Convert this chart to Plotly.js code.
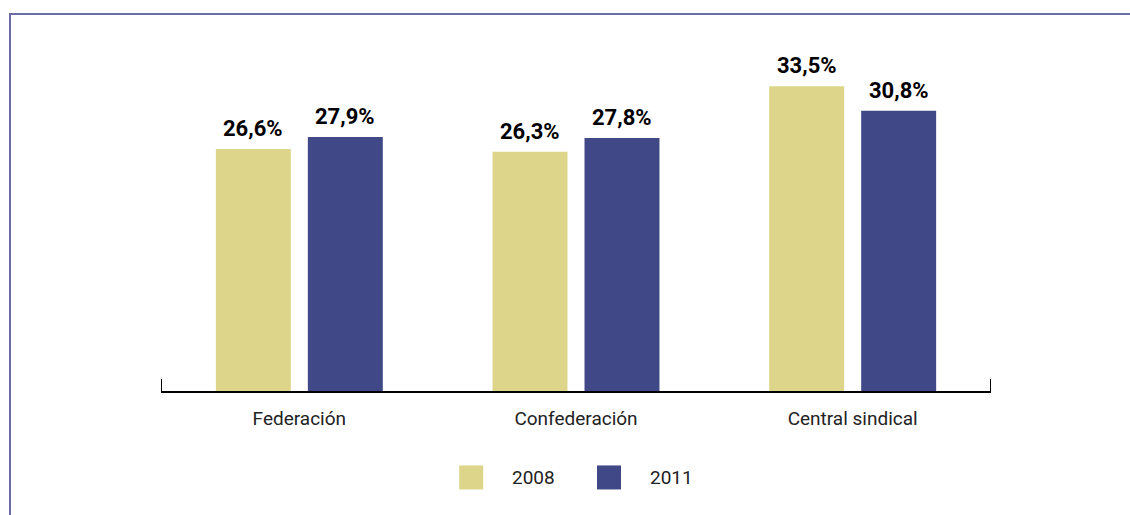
<!DOCTYPE html>
<html>
<head>
<meta charset="utf-8">
<script src="https://cdn.plot.ly/plotly-3.0.1.min.js"></script>
<style>
  html, body { margin: 0; padding: 0; background: #fff; }
  #wrap { position: relative; width: 1130px; height: 515px; overflow: hidden; }
  #chart { position: absolute; left: 0; top: 0; width: 1130px; height: 515px; }
  #frame { position: absolute; left: 9px; top: 13px; width: 1200px; height: 600px;
           border-top: 2px solid #6c6cab; border-left: 2px solid #6c6cab; pointer-events: none; }
</style>
</head>
<body>
<div id="wrap">
  <div id="chart"></div>
  <div id="frame"></div>
</div>
<script>
// ---- data ----
const categories = ["Federación", "Confederación", "Central sindical"];
const seriesNames = ["2008", "2011"];
const values2008 = [26.6, 26.3, 33.5];
const values2011 = [27.9, 27.8, 30.8];
const seriesColors = ["#ddd68a", "#414888"];

const FONT = 'Roboto, "Liberation Sans", sans-serif';

const seriesValues = [values2008, values2011];

const traces = seriesValues.map((vals, i) => ({
  type: "bar",
  name: seriesNames[i],
  x: categories,
  y: vals,
  marker: { color: seriesColors[i] },
  hoverinfo: "skip",
  showlegend: false
}));

// value labels above bars
const annotations = [];
const offsets = [-46, 46];
seriesValues.forEach((vals, i) => {
  vals.forEach((v, j) => {
    annotations.push({
      x: categories[j], y: v, xref: "x", yref: "y",
      text: v.toFixed(1).replace(".", ",") + "%",
      showarrow: false, xanchor: "center", yanchor: "bottom",
      xshift: offsets[i], yshift: 6,
      font: { family: FONT, size: 22, color: "#000", weight: "bold" }
    });
  });
});

// custom legend (large squares)
const legendX = [0.3593, 0.5253];
const shapes = [];
seriesNames.forEach((name, i) => {
  shapes.push({
    type: "rect", xref: "paper", yref: "paper",
    x0: legendX[i], x1: legendX[i] + 0.0289,
    y0: -0.2045, y1: -0.2705,
    fillcolor: seriesColors[i], line: { width: 0 }
  });
  annotations.push({
    xref: "paper", yref: "paper",
    x: legendX[i] + 0.0615, y: -0.2375,
    text: name, showarrow: false, xanchor: "left", yanchor: "middle",
    font: { family: FONT, size: 19, color: "#222" }
  });
});

// end ticks of the category axis
[-0.5, 2.5].forEach(xv => {
  shapes.push({
    type: "line", xref: "x", yref: "paper",
    x0: xv, x1: xv, y0: -0.003, y1: 0.033,
    line: { color: "#000", width: 2 }
  });
});

const layout = {
  width: 1130, height: 515,
  margin: { l: 161, r: 139, t: 27, b: 124 },
  paper_bgcolor: "#fff", plot_bgcolor: "#fff",
  barmode: "group",
  bargap: 0.335,
  bargroupgap: 0.185,
  separators: ",.",
  showlegend: false,
  xaxis: {
    type: "category",
    range: [-0.5, 2.5],
    showline: true, linecolor: "#000", linewidth: 2,
    ticks: "", showgrid: false, zeroline: false,
    ticklabelstandoff: 9,
    tickfont: { family: FONT, size: 19, color: "#222" },
    fixedrange: true
  },
  yaxis: {
    range: [0, 40],
    visible: false, showgrid: false, zeroline: false,
    fixedrange: true
  },
  font: { family: FONT },
  annotations: annotations,
  shapes: shapes
};

Plotly.newPlot("chart", traces, layout, { displayModeBar: false, staticPlot: true });
</script>
</body>
</html>
